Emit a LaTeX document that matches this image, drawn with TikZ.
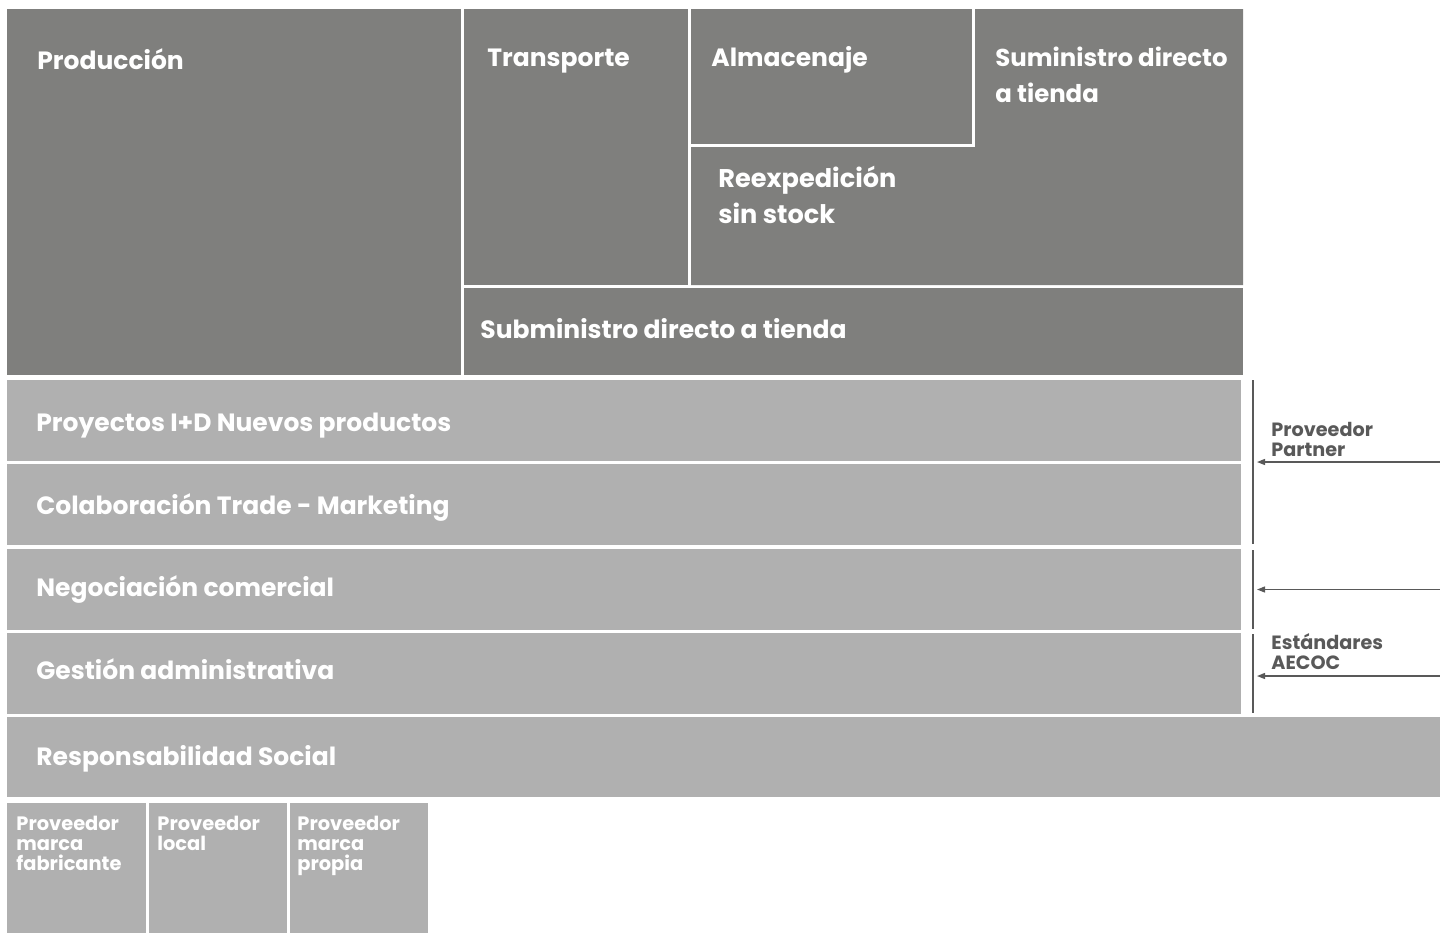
\documentclass[tikz,border=0pt]{standalone}
\usepackage{fontspec}
\setmainfont{Poppins}
\usetikzlibrary{arrows.meta}
\definecolor{darkbox}{RGB}{127,127,125}
\definecolor{lightbox}{RGB}{176,176,176}
\definecolor{ink}{RGB}{89,89,89}
\tikzset{
  dk/.style={fill=darkbox, draw=none},
  lt/.style={fill=lightbox, draw=none},
  lbl/.style={text=white, font=\bfseries\fontsize{12.5}{15}\selectfont, inner sep=0pt, anchor=base west, align=left},
  big/.style={lbl, font=\bfseries\fontsize{12.8}{18}\selectfont},
  small/.style={lbl, font=\bfseries\fontsize{9.7}{10}\selectfont},
  side/.style={lbl, text=ink, font=\bfseries\fontsize{9.6}{10}\selectfont},
  vbar/.style={draw=ink, line width=0.6pt},
  arr/.style={draw=ink, line width=0.6pt, -{Triangle[length=4pt,width=3pt]}},
}
\begin{document}
\begin{tikzpicture}[x=0.5pt, y=-0.5pt]
\useasboundingbox (0,0) rectangle (1440,933);
% dark block
\fill[dk] (7,9) rectangle (461,375);
\fill[dk] (464,9) rectangle (688,285);
\fill[dk] (691,9) rectangle (972,144);
\fill[dk] (975,9) -- (1243,9) -- (1243,285) -- (691,285) -- (691,147) -- (975,147) -- cycle;
\fill[dk] (464,288) rectangle (1243,375);
% light rows
\fill[lt] (7,380) rectangle (1241,461);
\fill[lt] (7,464) rectangle (1241,545);
\fill[lt] (7,549) rectangle (1241,630);
\fill[lt] (7,633) rectangle (1241,714);
\fill[lt] (7,717) rectangle (1440,797);
\fill[lt] (7,803) rectangle (146,933);
\fill[lt] (149,803) rectangle (287,933);
\fill[lt] (290,803) rectangle (428,933);
% labels (anchor = baseline of the last line)
\node[lbl] (prod) at (37,69) {Producción};
\node[lbl] (trans) at (487,66) {Transporte};
\node[lbl] (alm) at (711,66) {Almacenaje};
\node[big, font=\bfseries\fontsize{12.2}{18}\selectfont] (sum) at (995,102) {Suministro directo\\a tienda};
\node[big] (reex) at (718,223) {Reexpedición\\sin stock};
\node[lbl] (sub) at (480,338) {Subministro directo a tienda};
\node[lbl] (id) at (36,431) {Proyectos I+D Nuevos productos};
\node[lbl] (trade) at (36,514) {Colaboración Trade - Marketing};
\node[lbl] (neg) at (36,596) {Negociación comercial};
\node[lbl] (gest) at (36,679) {Gestión administrativa};
\node[lbl] (resp) at (36,765) {Responsabilidad Social};
\node[small] (fab) at (16,870) {Proveedor\\marca\\fabricante};
\node[small] (loc) at (157,850) {Proveedor\\local};
\node[small] (prop) at (297,870) {Proveedor\\marca\\propia};
% right side
\node[side] (partner) at (1271,456) {Proveedor\\Partner};
\node[side] (aecoc) at (1271,669) {Estándares\\AECOC};
\coordinate (v1a) at (1253,380); \coordinate (v1b) at (1253,544);
\coordinate (v2a) at (1253,550); \coordinate (v2b) at (1253,629);
\coordinate (v3a) at (1253,634); \coordinate (v3b) at (1253,713);
\draw[vbar] (v1a) -- (v1b);
\draw[vbar] (v2a) -- (v2b);
\draw[vbar] (v3a) -- (v3b);
\coordinate (a1s) at (1440,462); \coordinate (a1e) at (1257,462);
\coordinate (a2s) at (1440,589.5); \coordinate (a2e) at (1257,589.5);
\coordinate (a3s) at (1440,676); \coordinate (a3e) at (1257,676);
\draw[arr] (a1s) -- (a1e);
\draw[arr] (a2s) -- (a2e);
\draw[arr] (a3s) -- (a3e);
\end{tikzpicture}
\end{document}
